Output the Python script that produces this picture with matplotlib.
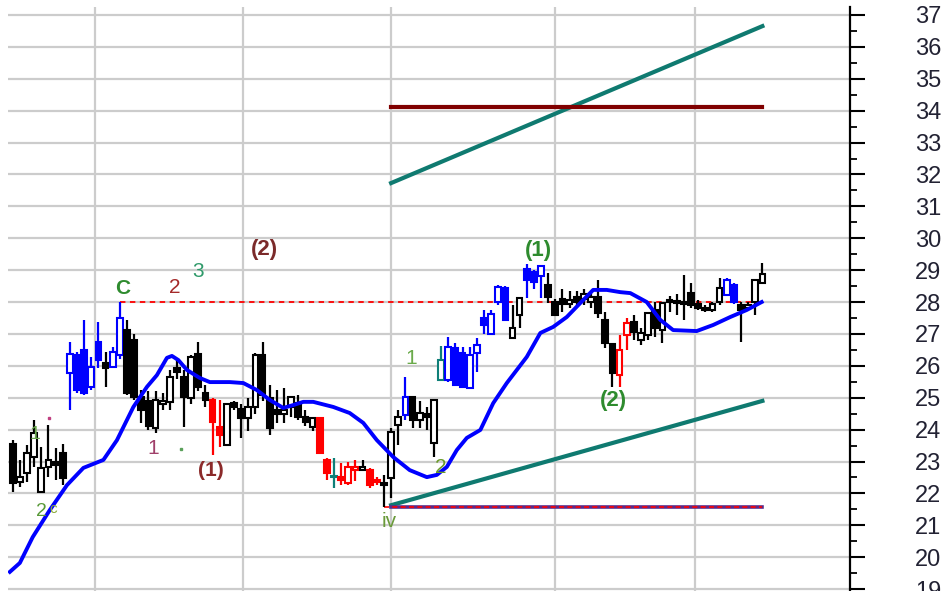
import matplotlib
matplotlib.use("Agg")
import matplotlib.pyplot as plt

plt.rcParams['font.family'] = ['Liberation Sans', 'DejaVu Sans']

# daily bars: open, high, low, close and the wave colour of each bar
opens = [23.55, 22.36, 22.64, 23.14, 22.04, 22.83, 23.00, 23.27,
         25.77, 26.34, 26.50, 25.34, 26.75, 26.09, 25.96, 26.34,
         27.12, 26.81, 25.02, 24.90, 24.05, 24.80, 24.87, 25.93, 25.65, 24.99,
         26.37, 25.15, 24.93, 24.08, 23.52, 24.83, 24.65, 24.36, 24.71, 26.34,
         24.99, 24.60, 24.50, 24.71, 24.83, 24.39, 24.08,
         24.36, 23.05, 22.50, 22.51, 22.33, 22.73, 22.73, 22.73, 22.42, 22.33,
         22.48, 24.14, 24.46, 25.02, 24.30, 24.50, 23.58,
         25.55, 25.55, 26.56, 26.40, 25.30, 26.40, 27.50, 27.00, 28.00, 28.44,
         26.87, 27.59, 29.03, 28.94, 28.82, 28.53, 28.00, 28.10, 27.95, 28.15,
         28.10, 28.00, 28.16, 27.44, 26.69, 25.71, 26.97, 27.37, 26.81, 26.97,
         27.75, 27.12, 28.00, 27.97, 28.00, 28.28, 27.95, 27.80, 27.75, 28.00,
         28.22, 28.53, 27.91, 27.80, 28.00, 28.60]
highs = [23.67, 23.05, 23.52, 24.30, 23.45, 24.14, 23.42, 23.55,
         26.75, 26.43, 27.44, 26.28, 27.37, 26.43, 26.59, 28.00,
         27.44, 27.00, 25.24, 25.20, 25.20, 25.15, 25.87, 26.18, 25.87, 26.34,
         26.75, 25.40, 25.00, 24.93, 24.80, 24.90, 24.80, 25.00, 26.40, 26.75,
         25.40, 25.25, 25.30, 25.02, 25.08, 24.60, 24.39,
         24.40, 23.10, 23.10, 22.95, 23.00, 23.05, 23.05, 22.80, 22.50, 22.58,
         24.05, 24.60, 25.65, 25.02, 24.90, 24.70, 24.93,
         26.62, 26.90, 26.70, 26.60, 26.60, 26.87, 27.75, 27.75, 28.53, 28.50,
         27.90, 28.16, 29.19, 29.00, 29.16, 28.90, 28.10, 28.40, 28.35, 28.35,
         28.40, 28.30, 28.69, 27.69, 26.70, 26.97, 27.50, 27.60, 27.20, 27.66,
         28.00, 28.00, 28.20, 28.25, 28.85, 28.60, 28.05, 27.90, 28.00, 28.75,
         28.75, 28.60, 28.00, 28.00, 28.69, 29.22]
lows = [22.04, 22.20, 22.36, 22.83, 22.01, 22.51, 22.42, 22.26,
        24.61, 25.15, 25.08, 25.24, 25.93, 25.34, 25.93, 26.21,
        25.08, 24.93, 24.21, 24.00, 23.89, 24.60, 24.61, 25.60, 24.08, 24.80,
        25.20, 24.70, 23.20, 23.45, 23.50, 24.60, 23.74, 23.95, 24.50, 24.90,
        23.83, 24.20, 24.20, 24.40, 24.30, 24.10, 23.95,
        23.27, 22.42, 22.17, 22.26, 22.26, 22.40, 22.70, 22.17, 22.26, 21.57,
        21.86, 23.52, 24.30, 24.05, 24.05, 24.00, 23.14,
        25.55, 25.50, 25.40, 25.30, 25.30, 25.81, 27.00, 27.00, 27.90, 27.40,
        26.87, 27.18, 28.13, 28.40, 28.13, 27.97, 27.55, 27.70, 27.80, 27.85,
        27.90, 27.80, 27.50, 26.56, 25.34, 25.34, 26.50, 26.80, 26.65, 26.80,
        26.90, 26.71, 27.70, 27.60, 27.44, 27.80, 27.75, 27.70, 27.70, 27.90,
        28.20, 27.95, 26.75, 27.75, 27.60, 28.60]
closes = [22.33, 22.51, 23.27, 23.89, 22.80, 23.05, 22.90, 22.48,
          26.37, 25.24, 25.15, 25.96, 26.18, 25.93, 26.43, 27.50,
          25.15, 25.02, 24.61, 24.10, 24.93, 24.90, 25.65, 25.80, 25.02, 26.28,
          25.34, 24.93, 24.24, 23.83, 24.80, 24.71, 24.36, 24.71, 26.34, 25.08,
          24.05, 24.50, 24.60, 25.02, 24.39, 24.25, 24.36,
          23.27, 22.64, 22.52, 22.42, 22.83, 22.83, 22.83, 22.26, 22.36, 22.26,
          23.92, 24.39, 25.02, 24.30, 24.52, 24.39, 24.93,
          26.18, 26.59, 25.40, 25.34, 26.34, 26.65, 27.28, 27.62, 28.47, 27.44,
          27.18, 28.13, 28.69, 28.63, 29.13, 28.16, 27.59, 27.95, 28.05, 28.00,
          28.25, 28.15, 27.66, 26.71, 25.77, 26.50, 27.34, 27.06, 27.03, 27.66,
          27.18, 27.97, 28.02, 28.00, 27.95, 27.91, 27.80, 27.75, 27.95, 28.44,
          28.69, 28.00, 27.75, 27.90, 28.69, 28.88]
waves = ("kkkkkkkk" + "bbbbbkbb" + "kkkkkkkkkkkkrrkkkkkkkkkkkkk"
         + "rrtrrrkrrk" + "kkbkkkk" + "tbbbbbbbbbkkbbbkk"
         + "kkkkkkkkrr" + "kkkkkkkkkkkkkbbkkkkb")
wave_colors = {'k': 'black', 'b': '#0000ff', 'r': '#ff0000', 't': '#0f7f78'}

# smoothed average, read at bar positions
ma_x = [-0.4, 1.0, 2.8, 5.2, 7.6, 9.9, 12.7, 14.6, 16.9, 18.8, 20.2, 21.6,
        22.3, 23.2, 24.4, 26.2, 27.6, 30.4, 32.3, 34.2, 36.0, 37.9, 39.3,
        40.7, 42.1, 44.9, 47.2, 49.1, 51.0, 53.3, 55.6, 58.0, 59.4, 60.8,
        62.2, 63.6, 65.5, 67.3, 69.2, 72.0, 73.9, 75.7, 77.6, 79.5, 81.3,
        83.2, 85.1, 86.5, 88.8, 90.7, 92.5, 95.8, 98.1, 100.5, 102.8, 104.9]
ma_y = [19.54, 19.82, 20.63, 21.48, 22.26, 22.80, 23.05, 23.67, 24.71, 25.34,
        25.71, 26.25, 26.31, 26.18, 25.87, 25.62, 25.49, 25.49, 25.46, 25.24,
        24.93, 24.68, 24.77, 24.87, 24.87, 24.71, 24.52, 24.21, 23.67, 23.14,
        22.73, 22.51, 22.58, 22.83, 23.36, 23.74, 23.99, 24.83, 25.46, 26.28,
        27.03, 27.22, 27.53, 27.97, 28.38, 28.38, 28.31, 28.28, 28.00, 27.44,
        27.12, 27.09, 27.28, 27.53, 27.75, 28.00]

month_lines = [11.5, 32.3, 53, 76, 95.6]

# projection lines: (start bar, end bar, start price, end price)
channel_low = (53, 105, 21.63, 24.90)
channel_high = (53, 105, 31.73, 36.65)
target_level = (53, 105, 34.10)
wave_iv_low = (52, 105, 21.57)
wave_c_high = (15, 105, 28.00)

wave_labels = [
    ("C", 15.45, 28.41, '#2e8b2e', 'bold', 15),
    ("1", 3.1, 23.86, '#6aa84f', 'normal', 14),
    ("2", 4.0, 21.42, '#5a9a3a', 'normal', 14),
    ("c", 5.6, 21.50, '#8aaa3a', 'normal', 11),
    ("2", 22.7, 28.47, '#a52a2a', 'normal', 15),
    ("3", 26.0, 28.97, '#2f9a6a', 'normal', 15),
    ("(2)", 35.2, 29.66, '#7b2a2a', 'bold', 16),
    ("1", 19.65, 23.42, '#a0406a', 'normal', 15),
    ("(1)", 27.8, 22.73, '#8b2a2a', 'bold', 15),
    ("iv", 52.7, 21.13, '#6a9a3a', 'normal', 15),
    ("1", 55.8, 26.24, '#6aaa4a', 'normal', 15),
    ("2", 60.0, 22.80, '#6a9a2a', 'normal', 15),
    ("(1)", 73.6, 29.63, '#2e8b2e', 'bold', 16),
    ("(2)", 84.1, 24.90, '#2e8b2e', 'bold', 16),
]

fig = plt.figure(figsize=(9.46, 5.91), dpi=100)
ax = fig.add_axes([8 / 946, 0, 842 / 946, 584 / 591])

# grid
for lvl in range(19, 38):
    ax.axhline(lvl, color='#cccccc', lw=1.6, zorder=0)
for m in month_lines:
    ax.axvline(m, color='#cccccc', lw=1.6, zorder=0)

# candles
for i in range(len(opens)):
    col = wave_colors[waves[i]]
    o, h, l, c = opens[i], highs[i], lows[i], closes[i]
    ax.vlines(i, l, h, color=col, lw=1.6, zorder=3)
    lo = min(o, c)
    hgt = max(abs(c - o), 0.05)
    face = col if c < o else 'white'
    ax.bar(i, hgt, bottom=lo, width=0.8, facecolor=face,
           edgecolor=col, lw=1.5, zorder=4)

# trend and level lines
x0, x1, y0, y1 = channel_low
ax.plot([x0, x1], [y0, y1], color='#0f7a70', lw=3, zorder=2)
x0, x1, y0, y1 = channel_high
ax.plot([x0, x1], [y0, y1], color='#0f7a70', lw=3, zorder=2)
x0, x1, lv = target_level
ax.plot([x0, x1], [lv, lv], color='#800000', lw=3, zorder=2)
x0, x1, lv = wave_iv_low
ax.plot([x0 + 1, x1], [lv, lv], color='#5a2a8a', lw=2.6, zorder=2)
ax.plot([x0, x1], [lv, lv], color='#ff0000', lw=1.2, ls=(0, (3, 2)), zorder=2)
x0, x1, lv = wave_c_high
ax.plot([x0, x1], [lv, lv], color='#ff0000', lw=1.3, ls=(0, (3, 2.5)), zorder=2)

# moving average
ax.plot(ma_x, ma_y, color='#0000ff', lw=2.8, zorder=5)

for txt, xi, yv, col, wt, fs in wave_labels:
    ax.text(xi, yv, txt, color=col, fontweight=wt, fontsize=fs,
            ha='center', va='center', zorder=6)
ax.plot([5.1], [24.36], marker='s', ms=1.5, color='#c04080', zorder=6)
ax.plot([23.6], [23.40], marker='s', ms=1.5, color='#5aa05a', zorder=6)

# price axis on the right
for side in ['left', 'top', 'bottom']:
    ax.spines[side].set_visible(False)
ax.spines['right'].set_linewidth(1.6)
ax.yaxis.tick_right()
ax.set_xticks([])
ax.set_yticks(range(19, 38))
ax.set_yticks([v + 0.5 for v in range(18, 38)], minor=True)
ax.tick_params(axis='y', which='major', length=11, width=1.5, pad=36,
               labelsize=17, labelcolor='#222233')
ax.tick_params(axis='y', which='minor', length=5, width=1.3)
# limits last, so the tick lists cannot widen them
ax.set_xlim(-0.66, 117.27)
ax.set_ylim(18.94, 37.25)

fig.savefig('out.png', dpi=100)
